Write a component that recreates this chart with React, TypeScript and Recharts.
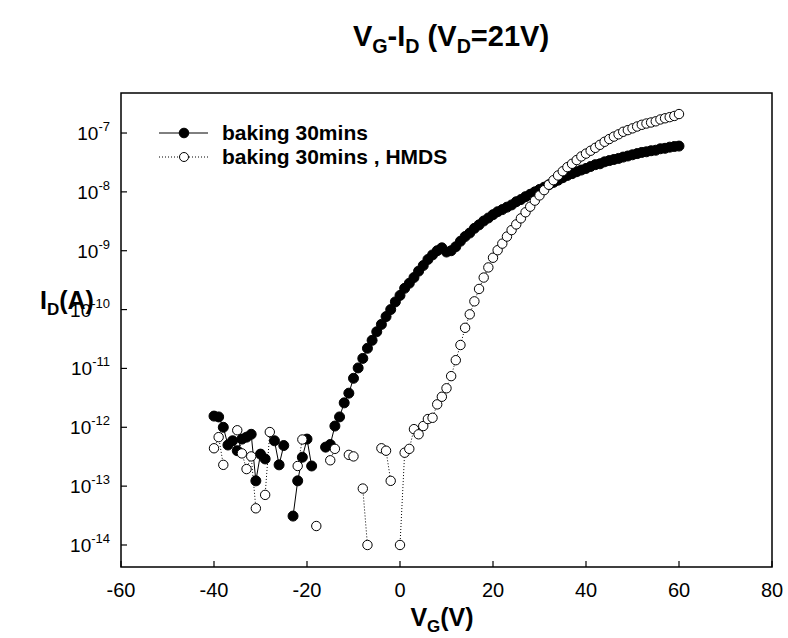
import React from 'react';
import { LineChart, Line, XAxis, YAxis, ReferenceArea } from 'recharts';

// gate voltage (V)
const vg = [
  -40, -39, -38, -37, -36, -35, -34, -33, -32, -31, -30, -29, -28, -27, -26, -25, -24, -23, -22, -21,
  -20, -19, -18, -17, -16, -15, -14, -13, -12, -11, -10, -9, -8, -7, -6, -5, -4, -3, -2, -1,
  0, 1, 2, 3, 4, 5, 6, 7, 8, 9, 10, 11, 12, 13, 14, 15, 16, 17, 18, 19,
  20, 21, 22, 23, 24, 25, 26, 27, 28, 29, 30, 31, 32, 33, 34, 35, 36, 37, 38, 39,
  40, 41, 42, 43, 44, 45, 46, 47, 48, 49, 50, 51, 52, 53, 54, 55, 56, 57, 58, 59, 60,
];

// drain current (A), baking 30mins — null where nothing was plotted
const baking30 = [
  1.55e-12, 1.5e-12, 1.0e-12, 5.0e-13, 5.9e-13, 4.0e-13, 6.3e-13, 6.8e-13, 7.6e-13, 1.23e-13,
  3.5e-13, 2.9e-13, null, 5.9e-13, 2.3e-13, 4.9e-13, null, 3.1e-14, 1.23e-13, 3.1e-13,
  6.3e-13, 2.2e-13, null, null, 4.6e-13, 5.1e-13, 1.05e-12, 1.5e-12, 2.6e-12, 3.8e-12,
  6.8e-12, 1.02e-11, 1.48e-11, 2.2e-11, 3.0e-11, 4.2e-11, 5.6e-11, 7.6e-11, 1.0e-10, 1.35e-10,
  1.74e-10, 2.3e-10, 2.8e-10, 3.5e-10, 4.5e-10, 5.6e-10, 7.1e-10, 8.5e-10, 1.0e-9, 1.12e-9,
  9.5e-10, 1.0e-9, 1.17e-9, 1.45e-9, 1.74e-9, 2.0e-9, 2.4e-9, 2.75e-9, 3.2e-9, 3.6e-9,
  4.1e-9, 4.6e-9, 5.0e-9, 5.5e-9, 6.0e-9, 6.8e-9, 7.4e-9, 8.3e-9, 9.1e-9, 1.0e-8,
  1.1e-8, 1.2e-8, 1.32e-8, 1.45e-8, 1.58e-8, 1.74e-8, 1.9e-8, 2.04e-8, 2.2e-8, 2.35e-8,
  2.5e-8, 2.7e-8, 2.9e-8, 3.0e-8, 3.24e-8, 3.4e-8, 3.55e-8, 3.7e-8, 3.9e-8, 4.07e-8,
  4.27e-8, 4.47e-8, 4.68e-8, 4.8e-8, 5.0e-8, 5.1e-8, 5.4e-8, 5.5e-8, 5.75e-8, 5.9e-8, 6.0e-8,
];

// drain current (A), baking 30mins + HMDS
const baking30Hmds = [
  4.4e-13, 6.8e-13, 2.3e-13, null, null, 8.9e-13, 3.6e-13, 1.95e-13, 3.2e-13, 4.2e-14,
  null, 7.1e-14, 8.3e-13, null, null, null, null, null, 2.2e-13, 6.2e-13,
  null, null, 2.1e-14, null, null, 2.75e-13, 4.3e-13, null, null, 3.4e-13,
  3.2e-13, null, 9.1e-14, 1.0e-14, null, null, 4.4e-13, 4.0e-13, 1.23e-13, null,
  1.0e-14, 3.7e-13, 4.3e-13, 9.3e-13, 7.6e-13, 1.05e-12, 1.38e-12, 1.45e-12, 2.45e-12, 3.3e-12,
  4.6e-12, 7.4e-12, 1.38e-11, 2.5e-11, 4.9e-11, 8.3e-11, 1.38e-10, 2.24e-10, 3.5e-10, 5.2e-10,
  7.6e-10, 1.02e-9, 1.32e-9, 1.74e-9, 2.24e-9, 2.8e-9, 3.55e-9, 4.5e-9, 5.6e-9, 7.1e-9,
  8.7e-9, 1.07e-8, 1.32e-8, 1.58e-8, 1.9e-8, 2.24e-8, 2.63e-8, 3.0e-8, 3.47e-8, 4.0e-8,
  4.47e-8, 5.0e-8, 5.6e-8, 6.3e-8, 7.1e-8, 7.9e-8, 8.7e-8, 9.5e-8, 1.05e-7, 1.12e-7,
  1.2e-7, 1.29e-7, 1.38e-7, 1.45e-7, 1.51e-7, 1.58e-7, 1.7e-7, 1.78e-7, 1.86e-7, 1.95e-7, 2.1e-7,
];

const xTicks = [-60, -40, -20, 0, 20, 40, 60, 80];
const yExponents = [-14, -13, -12, -11, -10, -9, -8, -7];

const data = vg.map((v, i) => ({ vg: v, baking: baking30[i], hmds: baking30Hmds[i] }));
const yTicks = yExponents.map((e) => Math.pow(10, e));
const yMin = Math.pow(10, -14.374);
const yMax = Math.pow(10, -6.32);

const FONT = '"Liberation Sans", Arial, Helvetica, sans-serif';

const XTick = (props: any) => {
  const { x, y, payload } = props;
  return (
    <g>
      <line x1={x} y1={y} x2={x} y2={y - 6} stroke="#000" strokeWidth={1.2} />
      <text x={x} y={y + 30} textAnchor="middle" fontSize={20} fontFamily={FONT} fill="#000">
        {payload.value}
      </text>
    </g>
  );
};

const YTick = (props: any) => {
  const { x, y, payload } = props;
  const exp = Math.round(Math.log10(payload.value));
  return (
    <g>
      <line x1={x} y1={y} x2={x + 6} y2={y} stroke="#000" strokeWidth={1.2} />
      <text x={x - 11} y={y + 7} textAnchor="end" fontSize={19} fontFamily={FONT} fill="#000">
        <tspan>10</tspan>
        <tspan dy={-9} fontSize={13}>{exp}</tspan>
      </text>
    </g>
  );
};

const sub: React.CSSProperties = { fontSize: '0.68em', position: 'relative', top: '0.35em' };

const App = () => {
  return (
    <div style={{ position: 'absolute', left: 0, top: 0, width: 788, height: 638, background: '#fff', fontFamily: FONT }}>
      <LineChart width={788} height={638} data={data} margin={{ top: 93, right: 16, bottom: 0, left: 0 }}>
        <XAxis
          dataKey="vg"
          type="number"
          domain={[-60, 80]}
          ticks={xTicks}
          axisLine={false}
          tickLine={false}
          tickSize={0}
          tickMargin={0}
          height={71}
          tick={<XTick />}
          interval={0}
        />
        <YAxis
          type="number"
          scale="log"
          domain={[yMin, yMax]}
          allowDataOverflow
          ticks={yTicks}
          axisLine={false}
          tickLine={false}
          tickSize={0}
          tickMargin={0}
          width={121}
          tick={<YTick />}
          interval={0}
        />
        <ReferenceArea x1={-60} x2={80} y1={yMin} y2={yMax} fill="none" stroke="#000" strokeWidth={1.5} />
        <Line
          dataKey="baking"
          stroke="#000"
          strokeWidth={1}
          dot={{ r: 5, fill: '#000', stroke: '#000', strokeWidth: 1 }}
          activeDot={false}
          isAnimationActive={false}
        />
        <Line
          dataKey="hmds"
          stroke="#000"
          strokeWidth={1}
          strokeDasharray="1 2"
          dot={{ r: 4.7, fill: '#fff', stroke: '#000', strokeWidth: 1, strokeDasharray: '' }}
          activeDot={false}
          isAnimationActive={false}
        />
      </LineChart>

      <div style={{ position: 'absolute', left: 451, top: 20, transform: 'translateX(-50%)', whiteSpace: 'nowrap', fontWeight: 'bold', fontSize: 29 }}>
        V<span style={sub}>G</span>-I<span style={sub}>D</span> (V<span style={sub}>D</span>=21V)
      </div>

      <div style={{ position: 'absolute', left: 40, top: 286, whiteSpace: 'nowrap', fontWeight: 'bold', fontSize: 25 }}>
        I<span style={sub}>D</span>(A)
      </div>

      <div style={{ position: 'absolute', left: 442, top: 603, transform: 'translateX(-50%)', whiteSpace: 'nowrap', fontWeight: 'bold', fontSize: 25 }}>
        V<span style={sub}>G</span>(V)
      </div>

      <div style={{ position: 'absolute', left: 156, top: 121, fontWeight: 'bold', fontSize: 21, lineHeight: '24px' }}>
        <div style={{ display: 'flex', alignItems: 'center' }}>
          <svg width={54} height={24}>
            <line x1={3} y1={12} x2={52} y2={12} stroke="#000" strokeWidth={1} />
            <circle cx={28} cy={12} r={4.8} fill="#000" stroke="#000" />
          </svg>
          <span style={{ marginLeft: 12 }}>baking 30mins</span>
        </div>
        <div style={{ display: 'flex', alignItems: 'center' }}>
          <svg width={54} height={24}>
            <line x1={3} y1={12} x2={52} y2={12} stroke="#000" strokeWidth={1} strokeDasharray="1 2" />
            <circle cx={28} cy={12} r={4.5} fill="#fff" stroke="#000" />
          </svg>
          <span style={{ marginLeft: 12 }}>baking 30mins , HMDS</span>
        </div>
      </div>
    </div>
  );
};

export default App;
